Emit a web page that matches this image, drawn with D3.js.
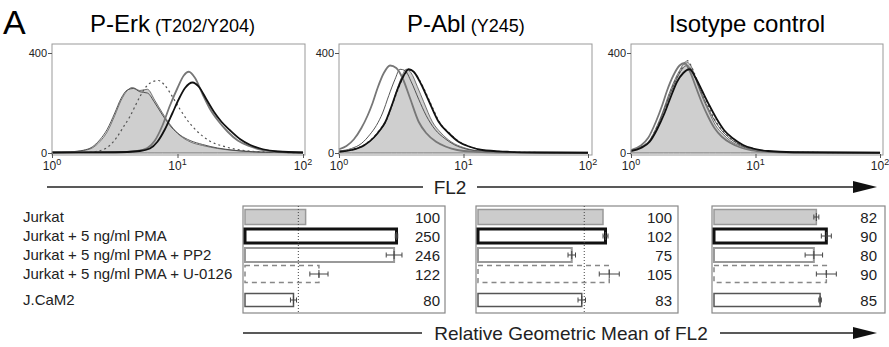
<!DOCTYPE html>
<html>
<head>
<meta charset="utf-8">
<script src="https://cdn.jsdelivr.net/npm/d3@7/dist/d3.min.js"></script>
<style>
  body { margin: 0; background: #fff; }
  svg { display: block; font-family: "Liberation Sans", Arial, Helvetica, sans-serif; }
</style>
</head>
<body>
<svg id="chart" width="889" height="347"></svg>
<script>
// conditions (rows of the bar panels, lines of the histograms)
const conditions = [
    'Jurkat',
    'Jurkat + 5 ng/ml PMA',
    'Jurkat + 5 ng/ml PMA + PP2',
    'Jurkat + 5 ng/ml PMA + U-0126',
    'J.CaM2'
];
const panelTitles = ['P-Erk', 'P-Abl', 'Isotype control'];
const panelSubtitles = ['(T202/Y204)', '(Y245)', ''];
const xTickExponents = [0, 1, 2];
const yTickValues = [0, 400];

// relative geometric mean of FL2 (+/- error)
const erkValues = [100, 250, 246, 122, 80];
const erkErrors = [0, 2, 13, 15, 5];
const ablValues = [100, 102, 75, 105, 83];
const ablErrors = [0, 2, 3, 8, 3];
const isoValues = [82, 90, 80, 90, 85];
const isoErrors = [2, 4, 7, 8, 1];

// histograms: [log10(FL2), count]
const erkJurkat = [[0,3],[0.15,5],[0.25,10],[0.32,20],[0.38,45],[0.44,85],[0.5,150],[0.55,210],[0.6,250],[0.64,262],[0.7,250],[0.76,255],[0.82,210],[0.88,160],[0.95,108],[1.02,70],[1.1,45],[1.2,30],[1.32,18],[1.45,10],[1.6,5],[1.8,2],[2,1]];
const erkPMA = [[0,2],[0.5,3],[0.7,8],[0.78,18],[0.84,45],[0.9,95],[0.96,160],[1.01,215],[1.06,260],[1.12,282],[1.17,265],[1.23,215],[1.29,165],[1.35,125],[1.42,90],[1.5,55],[1.58,32],[1.68,15],[1.8,6],[2,2]];
const erkPP2 = [[0,2],[0.5,3],[0.68,8],[0.76,20],[0.82,50],[0.88,110],[0.94,190],[1.0,260],[1.05,310],[1.09,325],[1.14,300],[1.2,235],[1.26,175],[1.33,125],[1.4,85],[1.48,50],[1.57,28],[1.68,12],[1.8,5],[2,2]];
const erkU0126 = [[0.3,3],[0.4,12],[0.46,30],[0.52,65],[0.57,105],[0.62,145],[0.66,185],[0.7,225],[0.75,265],[0.8,285],[0.85,290],[0.9,270],[0.96,225],[1.02,175],[1.08,130],[1.15,90],[1.25,50],[1.38,25],[1.5,12],[1.7,4],[2,1]];
const erkJCaM2 = [[0,3],[0.15,5],[0.25,11],[0.32,24],[0.38,52],[0.44,95],[0.5,160],[0.55,218],[0.6,252],[0.65,258],[0.7,245],[0.76,240],[0.82,200],[0.88,152],[0.95,104],[1.02,72],[1.1,50],[1.2,34],[1.32,20],[1.45,11],[1.6,5],[1.8,2],[2,1]];

const ablJurkat = [[0,5],[0.1,12],[0.2,30],[0.28,60],[0.33,90],[0.37,120],[0.42,180],[0.46,245],[0.5,300],[0.54,335],[0.58,320],[0.63,265],[0.68,205],[0.75,125],[0.82,80],[0.9,45],[1.0,22],[1.1,10],[1.3,4],[1.6,1],[2,0]];
const ablPMA = [[0,5],[0.1,12],[0.2,30],[0.28,62],[0.33,92],[0.37,122],[0.42,185],[0.47,255],[0.52,310],[0.56,335],[0.6,325],[0.66,275],[0.72,210],[0.8,125],[0.88,80],[0.96,45],[1.05,25],[1.15,12],[1.35,5],[1.6,2],[2,1]];
const ablPP2 = [[0,15],[0.06,28],[0.12,55],[0.18,100],[0.23,150],[0.27,200],[0.31,260],[0.36,320],[0.41,350],[0.46,340],[0.51,300],[0.57,220],[0.64,125],[0.7,80],[0.78,45],[0.86,25],[0.95,12],[1.1,5],[1.3,2],[2,1]];
const ablU0126 = [[0,6],[0.1,14],[0.2,32],[0.28,64],[0.33,95],[0.38,130],[0.43,195],[0.48,262],[0.53,315],[0.57,330],[0.61,318],[0.67,270],[0.73,205],[0.81,122],[0.89,78],[0.97,44],[1.06,24],[1.16,11],[1.35,5],[1.6,2],[2,1]];
const ablJCaM2 = [[0,8],[0.1,18],[0.18,38],[0.25,75],[0.3,110],[0.35,160],[0.4,230],[0.45,295],[0.49,335],[0.53,330],[0.58,285],[0.64,215],[0.7,150],[0.77,95],[0.85,58],[0.93,32],[1.02,16],[1.15,7],[1.35,3],[2,1]];

const isoJurkat = [[0,10],[0.08,25],[0.15,52],[0.21,110],[0.26,172],[0.3,230],[0.34,280],[0.39,330],[0.44,365],[0.48,350],[0.53,280],[0.58,215],[0.63,160],[0.68,110],[0.74,75],[0.8,48],[0.88,28],[0.96,15],[1.1,6],[1.3,2],[2,1]];
const isoPMA = [[0,8],[0.08,20],[0.15,45],[0.21,95],[0.27,160],[0.32,225],[0.37,285],[0.42,320],[0.47,335],[0.52,300],[0.57,250],[0.63,190],[0.69,135],[0.75,90],[0.82,58],[0.9,32],[0.98,18],[1.1,8],[1.3,3],[2,1]];
const isoPP2 = [[0,12],[0.08,30],[0.14,62],[0.2,125],[0.25,190],[0.29,250],[0.34,310],[0.39,350],[0.43,360],[0.47,330],[0.52,265],[0.57,200],[0.62,145],[0.67,100],[0.73,65],[0.8,40],[0.88,22],[0.97,11],[1.1,5],[1.3,2],[2,1]];
const isoU0126 = [[0,10],[0.08,24],[0.15,50],[0.21,105],[0.27,170],[0.31,235],[0.36,295],[0.41,340],[0.45,370],[0.5,330],[0.55,265],[0.61,200],[0.66,145],[0.72,98],[0.79,62],[0.87,35],[0.95,19],[1.08,8],[1.3,3],[2,1]];
const isoJCaM2 = [[0,9],[0.08,22],[0.15,48],[0.21,100],[0.26,165],[0.31,230],[0.36,290],[0.41,335],[0.45,350],[0.5,320],[0.55,260],[0.6,200],[0.66,140],[0.72,95],[0.79,60],[0.87,34],[0.95,18],[1.08,8],[1.3,3],[2,1]];

const svg = d3.select('#chart');

// layout of the three histogram panels
const histTop = 44, histBottom = 155;
const histPanels = [
    {left: 52, right: 303, frameRight: 305, titleX: 90, hist: [erkJurkat, erkPMA, erkPP2, erkU0126, erkJCaM2]},
    {left: 339, right: 588, frameRight: 592, titleX: 407, hist: [ablJurkat, ablPMA, ablPP2, ablU0126, ablJCaM2]},
    {left: 631, right: 880, frameRight: 883, titleX: 669, hist: [isoJurkat, isoPMA, isoPP2, isoU0126, isoJCaM2]}
];

// line style per condition (jurkat is the filled one)
const lineStyles = [
    {stroke: '#555', width: 0.8, dash: null},
    {stroke: '#111', width: 1.8, dash: null},
    {stroke: '#777', width: 1.8, dash: null},
    {stroke: '#555', width: 1.2, dash: '2,3'},
    {stroke: '#444', width: 0.9, dash: null}
];

svg.append('text')
    .attr('x', 3).attr('y', 34)
    .attr('font-size', 34)
    .text('A');

const y = d3.scaleLinear().domain([0, 400]).range([153, 53]);

histPanels.forEach((p, pi) => {
    const x = d3.scaleLog().domain([1, 100]).range([p.left, p.right]);
    const g = svg.append('g');

    // title
    const title = g.append('text')
        .attr('x', p.titleX).attr('y', 32)
        .attr('font-size', 24);
    title.append('tspan').text(panelTitles[pi]);
    if (panelSubtitles[pi]) {
        title.append('tspan').attr('font-size', 18).text(' ' + panelSubtitles[pi]);
    }

    const area = d3.area()
        .x((d) => x(Math.pow(10, d[0])))
        .y0(y(0))
        .y1((d) => y(d[1]))
        .curve(d3.curveMonotoneX);
    const line = d3.line()
        .x((d) => x(Math.pow(10, d[0])))
        .y((d) => y(d[1]))
        .curve(d3.curveMonotoneX);

    g.append('path')
        .attr('d', area(p.hist[0]))
        .attr('fill', '#cfcfcf')
        .attr('stroke', lineStyles[0].stroke)
        .attr('stroke-width', lineStyles[0].width);

    [4, 3, 2, 1].forEach((ci) => {
        g.append('path')
            .attr('d', line(p.hist[ci]))
            .attr('fill', 'none')
            .attr('stroke', lineStyles[ci].stroke)
            .attr('stroke-width', lineStyles[ci].width)
            .attr('stroke-dasharray', lineStyles[ci].dash);
    });

    // frame
    g.append('rect')
        .attr('x', p.left).attr('y', histTop)
        .attr('width', p.frameRight - p.left)
        .attr('height', histBottom - histTop)
        .attr('fill', 'none')
        .attr('stroke', '#999')
        .attr('stroke-width', 1);

    // y axis
    const yAxis = g.append('g')
        .attr('transform', `translate(${p.left},0)`)
        .call(d3.axisLeft(y).tickValues(yTickValues).tickSize(4).tickPadding(1));
    yAxis.select('.domain').remove();
    yAxis.selectAll('line').attr('stroke', '#555');
    yAxis.selectAll('text').attr('font-size', 11).attr('font-family', null).attr('fill', '#222');

    // x axis
    const xAxis = g.append('g')
        .attr('transform', `translate(0,${histBottom - 1})`)
        .call(d3.axisBottom(x).tickValues(xTickExponents.map((e) => Math.pow(10, e))).tickSize(4).tickFormat(''));
    xAxis.select('.domain').remove();
    xAxis.selectAll('line').attr('stroke', '#555');

    xTickExponents.forEach((e) => {
        const t = g.append('text')
            .attr('x', x(Math.pow(10, e)))
            .attr('y', 170)
            .attr('text-anchor', 'middle')
            .attr('font-size', 12)
            .attr('fill', '#222');
        t.append('tspan').text('10');
        t.append('tspan').attr('font-size', 9).attr('dy', -5).text(e);
    });
});

// arrows
function arrowAxis(x0, x1, gapStart, gapEnd, yy, label, size) {
    svg.append('line')
        .attr('x1', x0).attr('x2', gapStart)
        .attr('y1', yy).attr('y2', yy)
        .attr('stroke', '#222').attr('stroke-width', 1.5);
    svg.append('line')
        .attr('x1', gapEnd).attr('x2', x1 - 20)
        .attr('y1', yy).attr('y2', yy)
        .attr('stroke', '#222').attr('stroke-width', 1.5);
    svg.append('path')
        .attr('d', `M${x1 - 24},${yy - 6}L${x1},${yy}L${x1 - 24},${yy + 6}Z`)
        .attr('fill', '#111');
    svg.append('text')
        .attr('x', (gapStart + gapEnd) / 2).attr('y', yy + 6.5)
        .attr('text-anchor', 'middle')
        .attr('font-size', size)
        .attr('fill', '#222')
        .text(label);
}
arrowAxis(47, 877, 423, 477, 187, 'FL2', 19);
arrowAxis(243, 877, 422, 720, 333, 'Relative Geometric Mean of FL2', 19);

// bar panels
const barTop = 206, barBottom = 313;
const barPanels = [
    {x0: 243, x1: 445, max: 330, ref: 88, numX: 440, values: erkValues, errors: erkErrors},
    {x0: 476, x1: 678, max: 160, ref: 85, numX: 672, values: ablValues, errors: ablErrors},
    {x0: 712, x1: 885, max: 137, ref: null, numX: 877, values: isoValues, errors: isoErrors}
];
const barStyles = [
    {fill: '#cccccc', stroke: '#999', width: 1.5, dash: null, h: 15},
    {fill: '#fff', stroke: '#111', width: 3, dash: null, h: 14},
    {fill: '#fff', stroke: '#999', width: 2, dash: null, h: 14},
    {fill: '#fff', stroke: '#888', width: 1.5, dash: '5,4', h: 17},
    {fill: '#fff', stroke: '#555', width: 1.5, dash: null, h: 13}
];
const rowScale = d3.scaleLinear().domain([0, 3]).range([217, 274]);
const rowY = (i) => rowScale(i) + (i === 4 ? 7 : 0);

// row labels
svg.append('g').selectAll('text')
    .data(conditions)
    .enter()
    .append('text')
    .attr('x', 23)
    .attr('y', (d, i) => rowY(i) + 5)
    .attr('font-size', 15)
    .attr('fill', '#222')
    .text((d) => d);

barPanels.forEach((p) => {
    const g = svg.append('g');
    const xs = d3.scaleLinear().domain([0, p.max]).range([p.x0 + 2, p.x1]);

    g.append('rect')
        .attr('x', p.x0).attr('y', barTop)
        .attr('width', p.x1 - p.x0).attr('height', barBottom - barTop)
        .attr('fill', '#fff').attr('stroke', '#888').attr('stroke-width', 1.2);

    g.selectAll('rect.bar')
        .data(p.values)
        .enter()
        .append('rect')
        .attr('class', 'bar')
        .attr('x', xs(0))
        .attr('y', (d, i) => rowY(i) - barStyles[i].h / 2)
        .attr('width', (d) => xs(d) - xs(0))
        .attr('height', (d, i) => barStyles[i].h)
        .attr('fill', (d, i) => barStyles[i].fill)
        .attr('stroke', (d, i) => barStyles[i].stroke)
        .attr('stroke-width', (d, i) => barStyles[i].width)
        .attr('stroke-dasharray', (d, i) => barStyles[i].dash);

    if (p.ref !== null) {
        g.append('line')
            .attr('x1', xs(p.ref)).attr('x2', xs(p.ref))
            .attr('y1', barTop).attr('y2', barBottom)
            .attr('stroke', '#444').attr('stroke-width', 1)
            .attr('stroke-dasharray', '1,2');
    }

    // error bars
    p.values.forEach((v, i) => {
        const e = p.errors[i];
        if (!e) return;
        const cy = rowY(i);
        g.append('line')
            .attr('x1', xs(v - e)).attr('x2', xs(v + e))
            .attr('y1', cy).attr('y2', cy)
            .attr('stroke', '#444').attr('stroke-width', 1);
        [v - e, v, v + e].forEach((xv, k) => {
            const hh = k === 1 ? 4 : 2.5;
            g.append('line')
                .attr('x1', xs(xv)).attr('x2', xs(xv))
                .attr('y1', cy - hh).attr('y2', cy + hh)
                .attr('stroke', '#444').attr('stroke-width', 1);
        });
    });

    g.selectAll('text.val')
        .data(p.values)
        .enter()
        .append('text')
        .attr('class', 'val')
        .attr('x', p.numX)
        .attr('y', (d, i) => rowY(i) + 5.5)
        .attr('text-anchor', 'end')
        .attr('font-size', 15)
        .attr('fill', '#222')
        .text((d) => d);
});
</script>
</body>
</html>
